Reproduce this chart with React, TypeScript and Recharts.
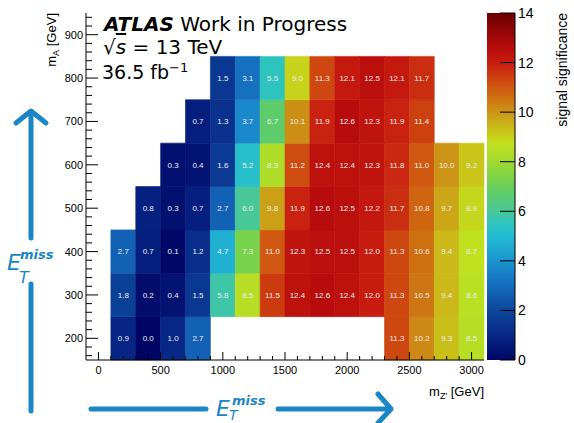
import { ComposedChart, XAxis, YAxis, ReferenceArea, Scatter } from "recharts";

// bin centres (GeV)
const mZprime = [200, 400, 600, 800, 1000, 1200, 1400, 1600, 1800, 2000, 2200, 2400, 2600, 2800, 3000];
const mA = [200, 300, 400, 500, 600, 700, 800];
const binWidth = 200;
const binHeight = 100;

// signal significance per m_A row, one entry per m_Z' bin (null = no point)
const sigA200 = [0.9, 0.0, 1.0, 2.7, null, null, null, null, null, null, null, 11.3, 10.2, 9.3, 8.5];
const sigA300 = [1.8, 0.2, 0.4, 1.5, 5.8, 8.5, 11.5, 12.4, 12.6, 12.4, 12.0, 11.3, 10.5, 9.4, 8.6];
const sigA400 = [2.7, 0.7, 0.1, 1.2, 4.7, 7.3, 11.0, 12.3, 12.5, 12.5, 12.0, 11.3, 10.6, 9.4, 8.7];
const sigA500 = [null, 0.8, 0.3, 0.7, 2.7, 6.0, 9.8, 11.9, 12.6, 12.5, 12.2, 11.7, 10.8, 9.7, 8.9];
const sigA600 = [null, null, 0.3, 0.4, 1.6, 5.2, 8.3, 11.2, 12.4, 12.4, 12.3, 11.8, 11.0, 10.0, 9.2];
const sigA700 = [null, null, null, 0.7, 1.3, 3.7, 6.7, 10.1, 11.9, 12.6, 12.3, 11.9, 11.4, null, null];
const sigA800 = [null, null, null, null, 1.5, 3.1, 5.5, 9.0, 11.3, 12.1, 12.5, 12.1, 11.7, null, null];
const rows = [sigA200, sigA300, sigA400, sigA500, sigA600, sigA700, sigA800];

const xMajorTicks = [0, 500, 1000, 1500, 2000, 2500, 3000];
const yMajorTicks = [200, 300, 400, 500, 600, 700, 800, 900];
const colorbarTicks = [0, 2, 4, 6, 8, 10, 12, 14];
const xTicks = Array.from({ length: 31 }, (_, i) => i * 100);
const yTicks = Array.from({ length: 40 }, (_, i) => 160 + i * 20);

// palette stops: [value, r, g, b]
const palette: [number, number, number, number][] = [
  [0, 0, 5, 100],
  [1, 8, 40, 135],
  [2, 12, 70, 155],
  [3, 20, 108, 190],
  [4, 28, 148, 208],
  [5, 34, 188, 210],
  [5.5, 46, 196, 190],
  [6, 72, 200, 152],
  [7, 104, 206, 88],
  [8, 160, 218, 48],
  [8.7, 192, 224, 32],
  [9, 200, 210, 26],
  [10, 204, 148, 22],
  [11, 208, 88, 16],
  [12, 200, 28, 16],
  [12.6, 184, 12, 12],
  [14, 106, 0, 0],
];

function colorFor(v: number) {
  for (let i = 1; i < palette.length; i++) {
    const [v1, r1, g1, b1] = palette[i];
    const [v0, r0, g0, b0] = palette[i - 1];
    if (v <= v1) {
      const t = (v - v0) / (v1 - v0);
      const r = Math.round(r0 + (r1 - r0) * t);
      const g = Math.round(g0 + (g1 - g0) * t);
      const b = Math.round(b0 + (b1 - b0) * t);
      return `rgb(${r},${g},${b})`;
    }
  }
  return "rgb(106,0,0)";
}

const cells = rows.flatMap((row, j) =>
  row.flatMap((v, i) => (v == null ? [] : [{ x: mZprime[i], y: mA[j], v }]))
);
const colorbarPoints = colorbarTicks.map((v) => ({ x: 0.5, y: v }));

const SANS = "'Liberation Sans', Arial, sans-serif";
const DEJAVU = "'DejaVu Sans', sans-serif";
const BLUE = "#1b86c5";

const NoShape = () => <g />;

function BottomTick(props: any) {
  const { x, y, payload } = props;
  const major = xMajorTicks.includes(payload.value);
  return (
    <g>
      <line x1={x} x2={x} y1={y} y2={y - (major ? 8 : 4)} stroke="#000" />
      {major && (
        <text x={x} y={y + 14} textAnchor="middle" fontSize={11} fontFamily={SANS} fill="#000">
          {payload.value}
        </text>
      )}
    </g>
  );
}

function TopTick(props: any) {
  const { x, y, payload } = props;
  const major = xMajorTicks.includes(payload.value);
  return <line x1={x} x2={x} y1={y} y2={y + (major ? 8 : 4)} stroke="#000" />;
}

function LeftTick(props: any) {
  const { x, y, payload } = props;
  const major = yMajorTicks.includes(payload.value);
  return (
    <g>
      <line x1={x} x2={x + (major ? 12 : 6)} y1={y} y2={y} stroke="#000" />
      {major && (
        <text x={x - 3} y={y + 4} textAnchor="end" fontSize={11} fontFamily={SANS} fill="#000">
          {payload.value}
        </text>
      )}
    </g>
  );
}

function RightTick(props: any) {
  const { x, y, payload } = props;
  const major = yMajorTicks.includes(payload.value);
  return <line x1={x} x2={x - (major ? 12 : 6)} y1={y} y2={y} stroke="#000" />;
}

function ColorbarTick(props: any) {
  const { x, y, payload } = props;
  return (
    <g>
      <line x1={x} x2={x - 15} y1={y} y2={y} stroke="#000" />
      <text x={x + 3} y={y + 5} fontSize={14} fontFamily={SANS} fill="#000">
        {payload.value}
      </text>
    </g>
  );
}

export default function App() {
  return (
    <div style={{ position: "absolute", left: 0, top: 0, width: 574, height: 423, background: "#fff" }}>
      <div style={{ position: "absolute", left: 0, top: 0 }}>
        <ComposedChart width={574} height={423} margin={{ top: 13, right: 90, bottom: 0, left: 0 }}>
          <XAxis
            xAxisId="b"
            dataKey="x"
            type="number"
            domain={[-100, 3100]}
            ticks={xTicks}
            interval={0}
            height={63}
            tickSize={0}
            tickMargin={0}
            tickLine={false}
            tick={BottomTick}
            axisLine={{ stroke: "#000" }}
            allowDataOverflow
          />
          <XAxis
            xAxisId="t"
            dataKey="x"
            orientation="top"
            type="number"
            domain={[-100, 3100]}
            ticks={xTicks}
            interval={0}
            height={0}
            tickSize={0}
            tickMargin={0}
            tickLine={false}
            tick={TopTick}
            axisLine={{ stroke: "#000" }}
            allowDataOverflow
          />
          <YAxis
            yAxisId="l"
            dataKey="y"
            type="number"
            domain={[150, 950]}
            ticks={yTicks}
            interval={0}
            width={86}
            tickSize={0}
            tickMargin={0}
            tickLine={false}
            tick={LeftTick}
            axisLine={{ stroke: "#000" }}
            allowDataOverflow
          />
          <YAxis
            yAxisId="r"
            dataKey="y"
            orientation="right"
            type="number"
            domain={[150, 950]}
            ticks={yTicks}
            interval={0}
            width={0}
            tickSize={0}
            tickMargin={0}
            tickLine={false}
            tick={RightTick}
            axisLine={{ stroke: "#000" }}
            allowDataOverflow
          />
          <Scatter
            xAxisId="b"
            yAxisId="l"
            data={cells}
            dataKey="y"
            shape={NoShape}
            isAnimationActive={false}
          />
          <Scatter
            xAxisId="t"
            yAxisId="r"
            data={cells}
            dataKey="y"
            shape={NoShape}
            isAnimationActive={false}
          />
          {cells.map((c) => (
            <ReferenceArea
              key={`${c.x}-${c.y}`}
              xAxisId="b"
              yAxisId="l"
              x1={c.x - binWidth / 2}
              x2={c.x + binWidth / 2}
              y1={c.y - binHeight / 2}
              y2={c.y + binHeight / 2}
              fill={colorFor(c.v)}
              fillOpacity={1}
              stroke={colorFor(c.v)}
              strokeWidth={0.6}
              ifOverflow="visible"
              label={{
                value: c.v.toFixed(1),
                position: "center",
                fill: "#ececec",
                fontSize: 8,
                fontFamily: SANS,
              }}
            />
          ))}
        </ComposedChart>
      </div>

      <div style={{ position: "absolute", left: 0, top: 0 }}>
        <ComposedChart width={574} height={423} margin={{ top: 13, right: 0, bottom: 63, left: 487 }}>
          <defs>
            <linearGradient id="cbGrad" x1="0" y1="1" x2="0" y2="0">
              {palette.map(([v]) => (
                <stop key={v} offset={v / 14} stopColor={colorFor(v)} />
              ))}
            </linearGradient>
          </defs>
          <XAxis xAxisId="c" dataKey="x" type="number" domain={[0, 1]} hide />
          <YAxis
            yAxisId="c"
            dataKey="y"
            orientation="right"
            type="number"
            domain={[0, 14]}
            ticks={colorbarTicks}
            interval={0}
            width={59}
            tickSize={0}
            tickMargin={0}
            tickLine={false}
            tick={ColorbarTick}
            axisLine={{ stroke: "#000" }}
          />
          <Scatter
            xAxisId="c"
            yAxisId="c"
            data={colorbarPoints}
            dataKey="y"
            shape={NoShape}
            isAnimationActive={false}
          />
          <ReferenceArea
            xAxisId="c"
            yAxisId="c"
            x1={0}
            x2={1}
            y1={0}
            y2={14}
            fill="url(#cbGrad)"
            fillOpacity={1}
            stroke="none"
            ifOverflow="visible"
          />
        </ComposedChart>
      </div>

      <svg width={574} height={423} style={{ position: "absolute", left: 0, top: 0, pointerEvents: "none" }}>
        {/* labels */}
        <text x={104} y={31} fontFamily={DEJAVU} fontSize={20} fill="#000">
          <tspan fontWeight="bold" fontStyle="italic">ATLAS</tspan> Work in Progress
        </text>
        <text x={103} y={54} fontFamily={DEJAVU} fontSize={20} fill="#000">
          √<tspan fontStyle="italic" textDecoration="overline">s</tspan> = 13 TeV
        </text>
        <text x={102} y={79} fontFamily={DEJAVU} fontSize={19} fill="#000">
          36.5 fb<tspan dy={-7} fontSize={13}>−1</tspan>
        </text>

        <text x={484} y={396} textAnchor="end" fontFamily={SANS} fontSize={13} fill="#000">
          m<tspan fontSize={9} dy={3}>Z'</tspan>
          <tspan dy={-3}> [GeV]</tspan>
        </text>
        <text transform="translate(56,13) rotate(-90)" textAnchor="end" fontFamily={SANS} fontSize={13} fill="#000">
          m<tspan fontSize={9} dy={3}>A</tspan>
          <tspan dy={-3}> [GeV]</tspan>
        </text>
        <text transform="translate(567,13) rotate(-90)" textAnchor="end" fontFamily={SANS} fontSize={14} fill="#000">
          signal significance
        </text>

        {/* E_T^miss arrows */}
        <g stroke={BLUE} strokeWidth={5} fill="none" strokeLinejoin="round" strokeLinecap="round">
          <line x1={31} y1={411} x2={31} y2={284} />
          <line x1={31} y1={238} x2={31} y2={113} />
          <polyline points="16,123 31,111 46,123" />
          <line x1={91} y1={409} x2={206} y2={409} />
          <line x1={278} y1={409} x2={390} y2={409} />
          <polyline points="378,394 391,409 378,423" />
        </g>
        <g fill={BLUE} fontFamily={DEJAVU} fontStyle="italic">
          <text x={7} y={270} fontSize={22}>E</text>
          <text x={19} y={283} fontSize={16}>T</text>
          <text x={20} y={259} fontSize={13} fontWeight="bold">miss</text>
          <text x={216} y={416} fontSize={22}>E</text>
          <text x={229} y={420} fontSize={14}>T</text>
          <text x={232} y={405} fontSize={13} fontWeight="bold">miss</text>
        </g>
      </svg>
    </div>
  );
}
